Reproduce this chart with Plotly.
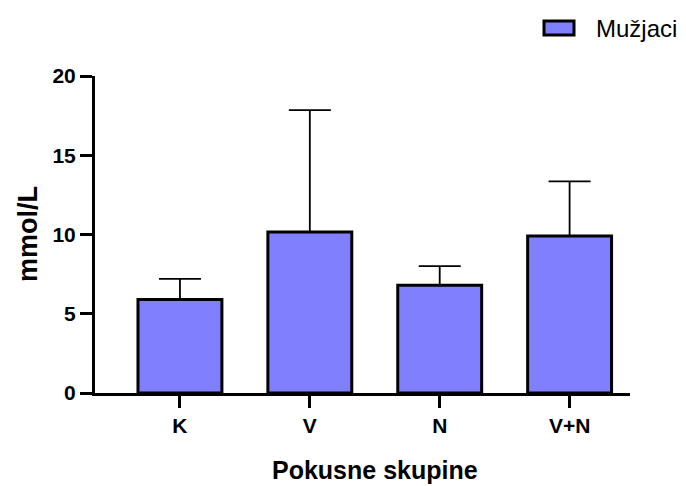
import plotly.graph_objects as go

categories = ["K", "V", "N", "V+N"]
means = [5.9, 10.15, 6.8, 9.9]
errors_plus = [1.3, 7.7, 1.2, 3.45]
series_name = "Mužjaci"
y_ticks = [0, 5, 10, 15, 20]

FONT = "Arial, Liberation Sans, sans-serif"
BAR_COLOR = "#8080FF"

L, R, T, B = 95, 630, 76, 393
PW, PH = R - L, B - T

def px(xp):
    return (xp - L) / PW

def py(yp):
    return (B - yp) / PH

fig = go.Figure()
fig.add_trace(go.Bar(
    x=categories, y=means, name=series_name,
    marker=dict(color=BAR_COLOR, line=dict(color="black", width=3)),
    width=0.646,
    error_y=dict(type="data", array=errors_plus, arrayminus=[0]*len(means),
                 symmetric=False, color="black", thickness=1.8, width=21),
    showlegend=False,
))

fig.update_layout(
    width=686, height=486,
    margin=dict(l=L, r=686 - R, t=T, b=486 - B),
    paper_bgcolor="white", plot_bgcolor="white",
    font=dict(family=FONT, color="black"),
    xaxis=dict(range=[-0.654, 3.465], showline=True, linecolor="black", linewidth=3,
               ticks="outside", ticklen=12, tickwidth=3, tickcolor="black",
               tickfont=dict(size=21, family=FONT, weight="bold"), showgrid=False,
               zeroline=False),
    yaxis=dict(range=[0, 20], tickvals=y_ticks, showline=True, linecolor="black", linewidth=3,
               ticks="outside", ticklen=12, tickwidth=3, tickcolor="black",
               tickfont=dict(size=21, family=FONT, weight="bold"), showgrid=False,
               zeroline=False),
)

# axis titles
fig.add_annotation(text="<b>mmol/L</b>", xref="paper", yref="paper", x=px(28), y=py(234),
                   xanchor="center", yanchor="middle", textangle=-90, showarrow=False,
                   font=dict(size=27, family=FONT, color="black"))
fig.add_annotation(text="<b>Pokusne skupine</b>", xref="paper", yref="paper", x=px(375), y=py(470),
                   xanchor="center", yanchor="middle", showarrow=False,
                   font=dict(size=25, family=FONT, color="black"))

# legend
fig.add_shape(type="rect", xref="paper", yref="paper",
              x0=px(544), x1=px(574), y0=py(35), y1=py(21),
              fillcolor=BAR_COLOR, line=dict(color="black", width=3))
fig.add_annotation(text=series_name, xref="paper", yref="paper", x=px(594), y=py(28),
                   xanchor="left", yanchor="middle", showarrow=False,
                   font=dict(size=24, family=FONT, color="black"))

fig.write_html("out.html", post_script="document.body.style.margin='0';",
               config={"displayModeBar": False})
